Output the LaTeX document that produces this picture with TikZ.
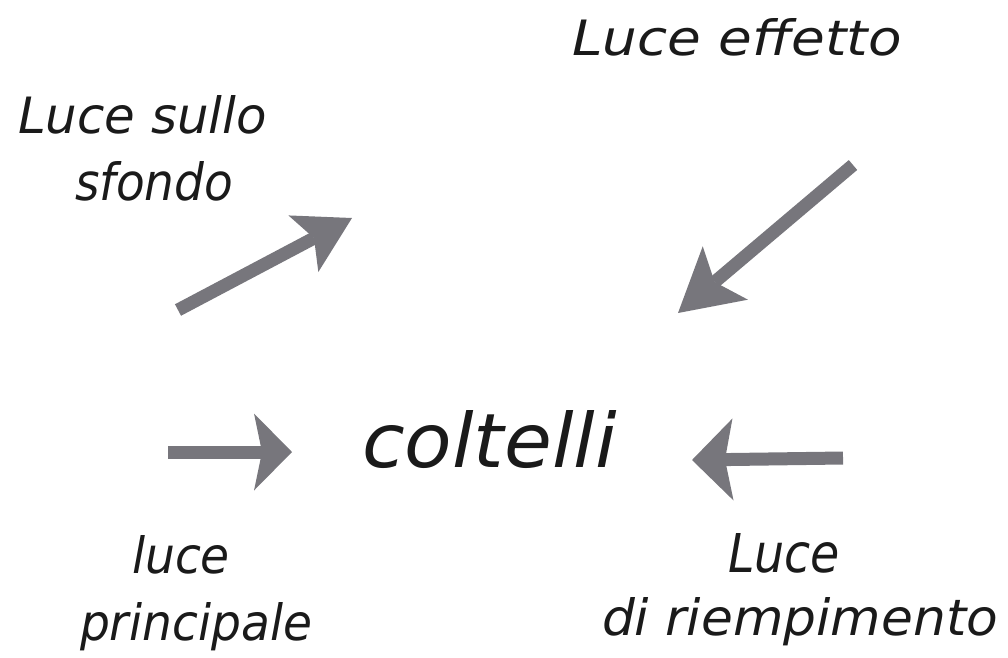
\documentclass[tikz,border=0pt]{standalone}
\usepackage{fontspec}
\setmainfont{DejaVu Sans}
\usepackage{graphicx}
\usetikzlibrary{arrows.meta}
\definecolor{arrowgray}{HTML}{77767C}
\definecolor{inkblack}{HTML}{1A1A1A}
\newcommand\hwtext[3]{\resizebox{#1pt}{#2pt}{\itshape #3}}
\begin{document}
\begin{tikzpicture}[x=1pt,y=-1pt,
  lbl/.style={anchor=base west,inner sep=0pt,outer sep=0pt,text=inkblack},
  bigarrow/.style={draw=arrowgray,line width=13pt}]
\useasboundingbox (0,0) rectangle (1008,657);
% texts
\node[lbl] (effetto) at (572,55) {\hwtext{330}{37}{Luce effetto}};
\node[lbl] (sullo) at (18,133) {\hwtext{249}{38}{Luce sullo}};
\node[lbl] (sfondo) at (75,200) {\hwtext{158}{39}{sfondo}};
\node[lbl] (coltelli) at (362,467) {\hwtext{255}{57}{coltelli}};
\node[lbl] (luce) at (132,573) {\hwtext{98}{38}{luce}};
\node[lbl] (principale) at (80,640) {\hwtext{232}{38}{principale}};
\node[lbl] (Luce) at (728,572) {\hwtext{112}{39}{Luce}};
\node[lbl] (riemp) at (602,635) {\hwtext{396}{38}{di riempimento}};
% arrow end points
\coordinate (a1s) at (178,310);
\coordinate (a1e) at (352,218);
\coordinate (a2s) at (853,165);
\coordinate (a2e) at (678,313);
\coordinate (a3s) at (168,452);
\coordinate (a3e) at (292,452);
\coordinate (a4s) at (843,458);
\coordinate (a4e) at (692,460);
\draw[bigarrow,-{Stealth[length=55pt,width=64pt,inset=12pt,line width=0pt,fill=arrowgray]}] (a1s) -- (a1e);
\draw[bigarrow,-{Stealth[length=62pt,width=70pt,inset=14pt,line width=0pt,fill=arrowgray]}] (a2s) -- (a2e);
\draw[bigarrow,-{Stealth[length=38pt,width=77pt,inset=8pt,line width=0pt,fill=arrowgray]}] (a3s) -- (a3e);
\draw[bigarrow,-{Stealth[length=41pt,width=82pt,inset=8pt,line width=0pt,fill=arrowgray]}] (a4s) -- (a4e);
\end{tikzpicture}
\end{document}
